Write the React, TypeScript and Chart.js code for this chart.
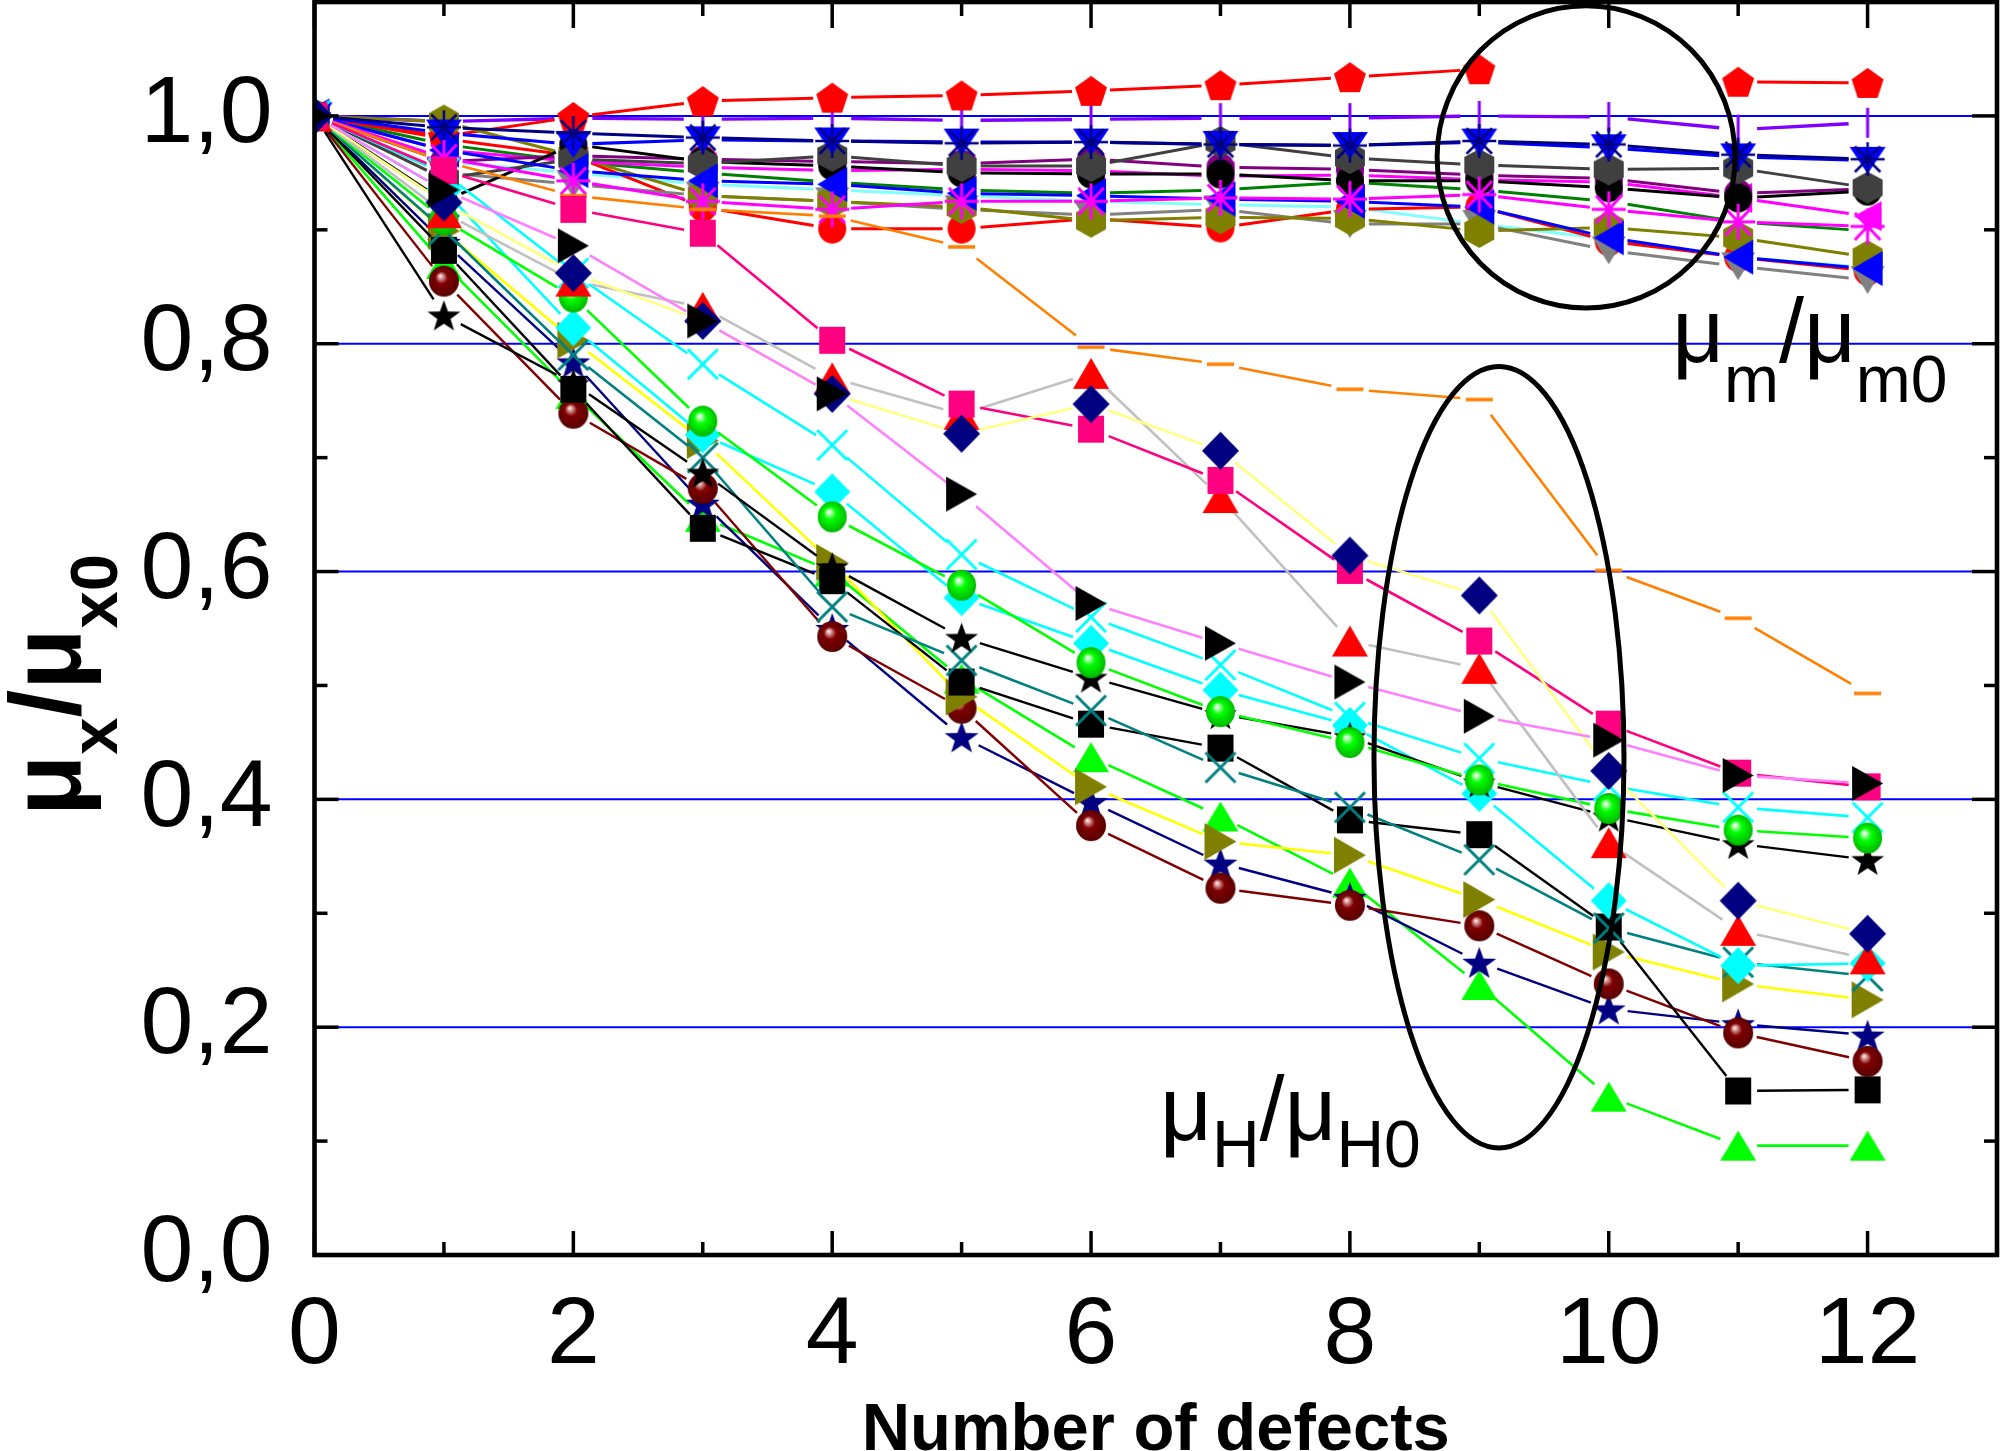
import React, { useEffect, useRef } from 'react';
import { Chart, registerables } from 'chart.js';

Chart.register(...registerables);

// ---------- axes ----------
const xValues = [0, 1, 2, 3, 4, 5, 6, 7, 8, 9, 10, 11, 12];
const xTickValues = [0, 2, 4, 6, 8, 10, 12];
const xTickLabels = ['0', '2', '4', '6', '8', '10', '12'];
const xMinorTickValues = [1, 3, 5, 7, 9, 11];
const yTickValues = [0, 0.2, 0.4, 0.6, 0.8, 1.0];
const yTickLabels = ['0,0', '0,2', '0,4', '0,6', '0,8', '1,0'];
const yMinorTickValues = [0.1, 0.3, 0.5, 0.7, 0.9];
const yGridValues = [0.2, 0.4, 0.6, 0.8, 1.0];
const xAxisTitle = 'Number of defects';

// ---------- μH/μH0 series ----------
const hBlackRightTriangle = [1, 0.935, 0.886, 0.82, 0.756, 0.668, 0.572, 0.537, 0.503, 0.473, 0.452, 0.421, 0.414];
const hNavyDiamond = [1, 0.924, 0.862, 0.82, 0.756, 0.721, 0.747, 0.706, 0.614, 0.579, 0.425, 0.311, 0.282];
const hPinkSquare = [1, 0.952, 0.918, 0.897, 0.803, 0.747, 0.725, 0.68, 0.601, 0.539, 0.466, 0.423, 0.411];
const hRedTriangle = [1, 0.915, 0.855, 0.832, 0.77, 0.738, 0.774, 0.665, 0.539, 0.515, 0.362, 0.285, 0.26];
const hGreenSphere = [1, 0.909, 0.841, 0.732, 0.648, 0.588, 0.52, 0.477, 0.45, 0.417, 0.392, 0.373, 0.366];
const hBlackStar = [1, 0.825, 0.765, 0.687, 0.604, 0.542, 0.507, 0.475, 0.455, 0.415, 0.385, 0.361, 0.347];
const hCyanCross = [1, 0.95, 0.862, 0.782, 0.711, 0.615, 0.56, 0.518, 0.472, 0.436, 0.412, 0.393, 0.384];
const hCyanDiamond = [1, 0.935, 0.814, 0.72, 0.67, 0.577, 0.537, 0.496, 0.465, 0.405, 0.311, 0.254, 0.256];
const hTealCross = [1, 0.9, 0.79, 0.7, 0.569, 0.522, 0.478, 0.428, 0.393, 0.347, 0.287, 0.257, 0.245];
const hBlackSquare = [1, 0.882, 0.76, 0.638, 0.592, 0.503, 0.466, 0.445, 0.382, 0.369, 0.288, 0.144, 0.145];
const hOliveTriangle = [1, 0.899, 0.803, 0.715, 0.608, 0.49, 0.411, 0.363, 0.351, 0.312, 0.266, 0.238, 0.224];
const hBrownSphere = [1, 0.855, 0.739, 0.673, 0.543, 0.48, 0.377, 0.322, 0.307, 0.289, 0.238, 0.195, 0.17];
const hNavyStar = [1, 0.889, 0.784, 0.66, 0.55, 0.455, 0.398, 0.344, 0.314, 0.257, 0.216, 0.203, 0.193];
const hGreenTriangle = [1, 0.87, 0.756, 0.648, 0.6, 0.506, 0.437, 0.385, 0.327, 0.237, 0.139, 0.096, 0.096];
const hOrangeDash = [1, 0.96, 0.93, 0.918, 0.912, 0.885, 0.797, 0.782, 0.76, 0.751, 0.601, 0.559, 0.493];

// ---------- μm/μm0 series ----------
const mMagentaAsterisk = [1, 0.963, 0.943, 0.925, 0.918, 0.925, 0.925, 0.928, 0.927, 0.931, 0.918, 0.907, 0.903];
const mNavyAsterisk = [1, 0.99, 0.985, 0.981, 0.978, 0.976, 0.977, 0.975, 0.974, 0.978, 0.975, 0.966, 0.962];
const mBlueDownTriangle = [1, 0.985, 0.975, 0.979, 0.978, 0.977, 0.977, 0.975, 0.974, 0.977, 0.972, 0.964, 0.961];
const mBlueLeftTriangle = [1, 0.97, 0.952, 0.943, 0.94, 0.932, 0.93, 0.927, 0.925, 0.92, 0.893, 0.876, 0.866];
const mDarkGrayHexagon = [1, 0.945, 0.962, 0.958, 0.965, 0.956, 0.956, 0.977, 0.963, 0.957, 0.953, 0.954, 0.937];
const mBlackCircle = [1, 0.925, 0.975, 0.96, 0.956, 0.95, 0.949, 0.949, 0.943, 0.943, 0.937, 0.928, 0.934];
const mPurpleCircle = [1, 0.96, 0.965, 0.962, 0.96, 0.958, 0.962, 0.955, 0.953, 0.948, 0.945, 0.932, 0.936];
const mMagentaLeftTriangle = [1, 0.97, 0.96, 0.955, 0.952, 0.953, 0.952, 0.947, 0.948, 0.944, 0.942, 0.928, 0.912];
const mOliveHexagon = [1, 0.995, 0.965, 0.93, 0.925, 0.92, 0.908, 0.911, 0.91, 0.899, 0.902, 0.893, 0.876];
const mGrayDownTriangle = [1, 0.95, 0.94, 0.93, 0.925, 0.918, 0.913, 0.918, 0.905, 0.905, 0.882, 0.868, 0.856];
const mRedCircle = [1, 0.98, 0.965, 0.92, 0.901, 0.901, 0.91, 0.902, 0.918, 0.92, 0.89, 0.876, 0.864];
const mRedPentagon = [1, 0.982, 0.999, 1.013, 1.016, 1.018, 1.022, 1.027, 1.034, 1.041, null, 1.03, 1.029];
const mVioletBar = [1, 0.995, 0.998, 0.997, 0.998, 0.996, 0.997, 0.998, 0.998, 1.0, 0.999, 0.988, 0.994];
const mLightCyanLine = [1, 0.96, 0.95, 0.94, 0.935, 0.93, 0.925, 0.922, 0.92, 0.905, 0.892, 0.876, 0.867];
const mGreenLine = [1, 0.975, 0.96, 0.95, 0.942, 0.935, 0.932, 0.935, 0.942, 0.935, 0.925, 0.907, 0.899];

// ---------- annotations (data coordinates) ----------
const upperEllipse = { cx: 9.825, cy: 0.964, rx: 1.151, ry: 0.1326 };
const lowerEllipse = { cx: 9.152, cy: 0.437, rx: 0.966, ry: 0.343 };
const mLabelAnchor = { x: 10.49, y: 0.784 };
const hLabelAnchor = { x: 6.533, y: 0.101 };

// ---------- styles ----------
type Marker = { shape: string; color: string; w: number; h: number; lw?: number; light?: string; dark?: string };

const LINE_GAP = 19; // Origin-style gap between line ends and symbols (px)

const seriesStyles: { data: (number | null)[]; line: string; width: number; marker: Marker | null }[] = [
  { data: hBlackRightTriangle, line: '#FF80FF', width: 2.6, marker: { shape: 'triRight', color: '#000000', w: 31, h: 35 } },
  { data: hNavyDiamond, line: '#FFFF80', width: 2.6, marker: { shape: 'diamond', color: '#000080', w: 37, h: 38 } },
  { data: hPinkSquare, line: '#FF0080', width: 2.6, marker: { shape: 'square', color: '#FF0080', w: 26, h: 27 } },
  { data: hRedTriangle, line: '#C0C0C0', width: 2.6, marker: { shape: 'triUp', color: '#FF0000', w: 36, h: 31 } },
  { data: hGreenSphere, line: '#00FF00', width: 2.6, marker: { shape: 'sphere', color: '#00FF00', w: 29, h: 31, light: '#d0ffd0', dark: '#00b000' } },
  { data: hBlackStar, line: '#000000', width: 2.4, marker: { shape: 'star5', color: '#000000', w: 33, h: 32 } },
  { data: hCyanCross, line: '#00FFFF', width: 2.6, marker: { shape: 'x', color: '#00FFFF', w: 30, h: 30, lw: 3 } },
  { data: hCyanDiamond, line: '#00FFFF', width: 2.6, marker: { shape: 'diamond', color: '#00FFFF', w: 36, h: 37 } },
  { data: hTealCross, line: '#008080', width: 2.6, marker: { shape: 'x', color: '#008080', w: 30, h: 30, lw: 3 } },
  { data: hBlackSquare, line: '#000000', width: 2.4, marker: { shape: 'square', color: '#000000', w: 26, h: 27 } },
  { data: hOliveTriangle, line: '#FFFF00', width: 2.6, marker: { shape: 'triRight', color: '#808000', w: 32, h: 37 } },
  { data: hBrownSphere, line: '#800000', width: 2.4, marker: { shape: 'sphere', color: '#800000', w: 30, h: 31, light: '#e8b8b8', dark: '#550000' } },
  { data: hNavyStar, line: '#000080', width: 2.4, marker: { shape: 'star5', color: '#000080', w: 34, h: 33 } },
  { data: hGreenTriangle, line: '#00FF00', width: 2.6, marker: { shape: 'triUp', color: '#00FF00', w: 36, h: 30 } },
  { data: hOrangeDash, line: '#FF8000', width: 2.6, marker: { shape: 'dash', color: '#FF8000', w: 27, h: 4, lw: 3.5 } },
  { data: mMagentaAsterisk, line: '#FF00FF', width: 3, marker: { shape: 'asterisk', color: '#FF00FF', w: 34, h: 36, lw: 3 } },
  { data: mNavyAsterisk, line: '#000080', width: 3, marker: { shape: 'asterisk', color: '#000080', w: 34, h: 34, lw: 2.5 } },
  { data: mBlueDownTriangle, line: '#0000FF', width: 3.2, marker: { shape: 'triDown', color: '#0000FF', w: 36, h: 27 } },
  { data: mBlueLeftTriangle, line: '#0000FF', width: 3, marker: { shape: 'triLeft', color: '#0000FF', w: 30, h: 35 } },
  { data: mDarkGrayHexagon, line: '#404040', width: 3, marker: { shape: 'hexagon', color: '#404040', w: 30, h: 32 } },
  { data: mBlackCircle, line: '#000000', width: 3, marker: { shape: 'circle', color: '#000000', w: 28, h: 29 } },
  { data: mPurpleCircle, line: '#800080', width: 3, marker: { shape: 'circle', color: '#800080', w: 28, h: 28 } },
  { data: mMagentaLeftTriangle, line: '#FF00FF', width: 3, marker: { shape: 'triLeft', color: '#FF00FF', w: 28, h: 30 } },
  { data: mOliveHexagon, line: '#808000', width: 3, marker: { shape: 'hexagon', color: '#808000', w: 30, h: 34 } },
  { data: mGrayDownTriangle, line: '#808080', width: 3, marker: { shape: 'triDown', color: '#808080', w: 34, h: 28 } },
  { data: mRedCircle, line: '#FF0000', width: 3, marker: { shape: 'circle', color: '#FF0000', w: 28, h: 30 } },
  { data: mRedPentagon, line: '#FF0000', width: 3, marker: { shape: 'pentagon', color: '#FF0000', w: 32, h: 30 } },
  { data: mVioletBar, line: '#8000FF', width: 3.4, marker: { shape: 'vbar', color: '#8000FF', w: 4, h: 30, lw: 3 } },
  { data: mLightCyanLine, line: '#80FFFF', width: 3, marker: null },
  { data: mGreenLine, line: '#008000', width: 3, marker: null },
];

function makeMarker(m: Marker): HTMLCanvasElement {
  const pad = 3;
  const c = document.createElement('canvas');
  c.width = Math.ceil(m.w + pad * 2);
  c.height = Math.ceil(m.h + pad * 2);
  const g = c.getContext('2d') as CanvasRenderingContext2D;
  const cx = c.width / 2, cy = c.height / 2, hw = m.w / 2, hh = m.h / 2;
  g.fillStyle = m.color;
  g.strokeStyle = m.color;
  g.lineWidth = m.lw || 3;
  const poly = (pts: number[][]) => {
    g.beginPath();
    pts.forEach((p, i) => (i ? g.lineTo(p[0], p[1]) : g.moveTo(p[0], p[1])));
    g.closePath();
    g.fill();
  };
  switch (m.shape) {
    case 'square':
      g.fillRect(cx - hw, cy - hh, m.w, m.h);
      break;
    case 'circle':
      g.beginPath();
      g.ellipse(cx, cy, hw, hh, 0, 0, Math.PI * 2);
      g.fill();
      break;
    case 'sphere': {
      const grad = g.createRadialGradient(cx - hw * 0.25, cy - hh * 0.35, 0, cx, cy, Math.max(hw, hh) * 1.05);
      grad.addColorStop(0, '#ffffff');
      grad.addColorStop(0.1, m.light || '#ffffff');
      grad.addColorStop(0.38, m.color);
      grad.addColorStop(1, m.dark || m.color);
      g.fillStyle = grad;
      g.beginPath();
      g.ellipse(cx, cy, hw, hh, 0, 0, Math.PI * 2);
      g.fill();
      break;
    }
    case 'triUp':
      poly([[cx, cy - hh], [cx + hw, cy + hh], [cx - hw, cy + hh]]);
      break;
    case 'triDown':
      poly([[cx - hw, cy - hh], [cx + hw, cy - hh], [cx, cy + hh]]);
      break;
    case 'triRight':
      poly([[cx - hw, cy - hh], [cx + hw, cy], [cx - hw, cy + hh]]);
      break;
    case 'triLeft':
      poly([[cx + hw, cy - hh], [cx - hw, cy], [cx + hw, cy + hh]]);
      break;
    case 'diamond':
      poly([[cx, cy - hh], [cx + hw, cy], [cx, cy + hh], [cx - hw, cy]]);
      break;
    case 'hexagon':
      poly([[cx, cy - hh], [cx + hw, cy - hh / 2], [cx + hw, cy + hh / 2], [cx, cy + hh], [cx - hw, cy + hh / 2], [cx - hw, cy - hh / 2]]);
      break;
    case 'pentagon': {
      const pts: number[][] = [];
      const ry = m.h / 1.809, rx = m.w / 1.902;
      const oy = cy + (ry - 0.809 * ry) / 2;
      for (let k = 0; k < 5; k++) {
        const a = (k * 72 * Math.PI) / 180;
        pts.push([cx + rx * Math.sin(a), oy - ry * Math.cos(a)]);
      }
      poly(pts);
      break;
    }
    case 'star5': {
      const pts: number[][] = [];
      const R = hw * 1.05, r = R * 0.4;
      const oy = cy + R * 0.1;
      for (let k = 0; k < 10; k++) {
        const a = (k * 36 * Math.PI) / 180;
        const rr = k % 2 === 0 ? R : r;
        pts.push([cx + rr * Math.sin(a), oy - rr * Math.cos(a) * (hh / hw)]);
      }
      poly(pts);
      break;
    }
    case 'x':
      g.beginPath();
      g.moveTo(cx - hw, cy - hh); g.lineTo(cx + hw, cy + hh);
      g.moveTo(cx + hw, cy - hh); g.lineTo(cx - hw, cy + hh);
      g.stroke();
      break;
    case 'asterisk': {
      g.beginPath();
      g.moveTo(cx, cy - hh); g.lineTo(cx, cy + hh);
      g.moveTo(cx - hw, cy); g.lineTo(cx + hw, cy);
      const d = 0.75;
      g.moveTo(cx - hw * d, cy - hh * d); g.lineTo(cx + hw * d, cy + hh * d);
      g.moveTo(cx + hw * d, cy - hh * d); g.lineTo(cx - hw * d, cy + hh * d);
      g.stroke();
      break;
    }
    case 'vbar':
      g.beginPath();
      g.moveTo(cx, cy - hh); g.lineTo(cx, cy + hh);
      g.stroke();
      break;
    case 'dash':
      g.beginPath();
      g.moveTo(cx - hw, cy); g.lineTo(cx + hw, cy);
      g.stroke();
      break;
    default:
      break;
  }
  return c;
}

type Part = { t: string; font: string; dy: number };

function drawRich(ctx: CanvasRenderingContext2D, parts: Part[], x: number, y: number) {
  let cx = x;
  ctx.textAlign = 'left';
  ctx.textBaseline = 'alphabetic';
  for (const p of parts) {
    ctx.font = p.font;
    ctx.fillText(p.t, cx, y + p.dy);
    cx += ctx.measureText(p.t).width;
  }
}

const SANS = "'Liberation Sans', Arial, sans-serif";

const decorPlugin = {
  id: 'decor',
  beforeDatasetsDraw(chart: any) {
    const { ctx, chartArea: a, scales } = chart;
    const ys = scales.y;
    ctx.save();
    ctx.strokeStyle = '#0000FF';
    ctx.lineWidth = 2;
    for (const v of yGridValues) {
      const py = ys.getPixelForValue(v);
      ctx.beginPath();
      ctx.moveTo(a.left, py);
      ctx.lineTo(a.right, py);
      ctx.stroke();
    }
    ctx.restore();
  },
  afterDatasetsDraw(chart: any) {
    const { ctx, chartArea: a, scales } = chart;
    const xs = scales.x, ys = scales.y;
    ctx.save();
    ctx.setLineDash([]);
    ctx.strokeStyle = '#000';
    ctx.lineCap = 'butt';
    ctx.lineWidth = 3.5;
    const seg = (x1: number, y1: number, x2: number, y2: number) => {
      ctx.beginPath(); ctx.moveTo(x1, y1); ctx.lineTo(x2, y2); ctx.stroke();
    };
    for (const v of xTickValues) {
      const px = xs.getPixelForValue(v);
      seg(px, a.bottom, px, a.bottom - 24);
      seg(px, a.top, px, a.top + 26);
    }
    for (const v of xMinorTickValues) {
      const px = xs.getPixelForValue(v);
      seg(px, a.bottom, px, a.bottom - 13);
      seg(px, a.top, px, a.top + 14);
    }
    for (const v of yTickValues) {
      const py = ys.getPixelForValue(v);
      seg(a.left, py, a.left + 24, py);
      seg(a.right, py, a.right - 25, py);
    }
    for (const v of yMinorTickValues) {
      const py = ys.getPixelForValue(v);
      seg(a.left, py, a.left + 13, py);
      seg(a.right, py, a.right - 13, py);
    }
    ctx.lineWidth = 4.6;
    ctx.strokeRect(a.left, a.top, a.right - a.left, a.bottom - a.top);

    const sx = Math.abs(xs.getPixelForValue(1) - xs.getPixelForValue(0));
    const sy = Math.abs(ys.getPixelForValue(1) - ys.getPixelForValue(0));
    ctx.lineWidth = 5;
    for (const e of [upperEllipse, lowerEllipse]) {
      ctx.beginPath();
      ctx.ellipse(xs.getPixelForValue(e.cx), ys.getPixelForValue(e.cy), e.rx * sx, e.ry * sy, 0, 0, Math.PI * 2);
      ctx.stroke();
    }

    ctx.fillStyle = '#000';
    const big = `90px ${SANS}`;
    const sub = `66px ${SANS}`;
    drawRich(ctx, [
      { t: 'μ', font: big, dy: 0 }, { t: 'm', font: sub, dy: 40 },
      { t: '/', font: big, dy: 0 },
      { t: 'μ', font: big, dy: 0 }, { t: 'm0', font: sub, dy: 40 },
    ], xs.getPixelForValue(mLabelAnchor.x), ys.getPixelForValue(mLabelAnchor.y));
    drawRich(ctx, [
      { t: 'μ', font: big, dy: 0 }, { t: 'H', font: sub, dy: 27 },
      { t: '/', font: big, dy: 0 },
      { t: 'μ', font: big, dy: 0 }, { t: 'H0', font: sub, dy: 27 },
    ], xs.getPixelForValue(hLabelAnchor.x), ys.getPixelForValue(hLabelAnchor.y));

    ctx.font = `bold 67px ${SANS}`;
    ctx.textAlign = 'center';
    ctx.textBaseline = 'alphabetic';
    ctx.fillText(xAxisTitle, (a.left + a.right) / 2, a.bottom + 195);

    ctx.save();
    ctx.translate(80, 816);
    ctx.rotate(-Math.PI / 2);
    const yb = `bold 100px ${SANS}`;
    const ysub = `bold 67px ${SANS}`;
    drawRich(ctx, [
      { t: 'μ', font: yb, dy: 0 }, { t: 'x', font: ysub, dy: 37 },
      { t: '/', font: yb, dy: 0 },
      { t: 'μ', font: yb, dy: 0 }, { t: 'x0', font: ysub, dy: 37 },
    ], 0, 0);
    ctx.restore();
    ctx.restore();
  },
};

// dash pattern that leaves a gap of LINE_GAP px at both ends of each segment
const gapDash = (sctx: any) => {
  const L = Math.hypot(sctx.p1.x - sctx.p0.x, sctx.p1.y - sctx.p0.y);
  const g = Math.min(LINE_GAP, L / 2);
  return [0, g, Math.max(L - 2 * g, 0), g];
};

export default function App() {
  const ref = useRef<HTMLCanvasElement>(null);
  useEffect(() => {
    document.body.style.margin = '0';
    const canvas = ref.current as HTMLCanvasElement;
    const datasets = seriesStyles.map((s) => ({
      data: xValues.map((x, i) => ({ x, y: s.data[i] })),
      borderColor: s.line,
      backgroundColor: s.line,
      borderWidth: s.width,
      borderCapStyle: 'butt',
      pointStyle: s.marker ? makeMarker(s.marker) : 'circle',
      pointRadius: s.marker ? 8 : 0,
      pointHoverRadius: s.marker ? 8 : 0,
      tension: 0,
      spanGaps: false,
      segment: { borderDash: gapDash },
      clip: { left: 0, top: false, right: false, bottom: false },
    }));
    const chart = new Chart(canvas, {
      type: 'line',
      data: { datasets },
      plugins: [decorPlugin],
      options: {
        animation: false,
        responsive: false,
        devicePixelRatio: 1,
        events: [],
        layout: { autoPadding: false, padding: { left: 0, top: 2, right: 3, bottom: 0 } },
        plugins: { legend: { display: false }, tooltip: { enabled: false }, title: { display: false } },
        scales: {
          x: {
            type: 'linear',
            min: 0,
            max: 13,
            grid: { display: false },
            border: { display: false },
            afterBuildTicks: (scale: any) => { scale.ticks = xTickValues.map((v) => ({ value: v })); },
            afterFit: (scale: any) => {
              scale.height = 196;
              scale.paddingLeft = 0;
              scale.paddingRight = 0;
            },
            ticks: {
              autoSkip: false,
              maxRotation: 0,
              padding: 17,
              color: '#000',
              font: { family: SANS, size: 95 },
              callback: (_v: any, i: number) => xTickLabels[i],
            },
          },
          y: {
            type: 'linear',
            min: 0,
            max: 1.1,
            grid: { display: false },
            border: { display: false },
            afterBuildTicks: (scale: any) => { scale.ticks = yTickValues.map((v) => ({ value: v })); },
            afterFit: (scale: any) => {
              scale.width = 314.5;
              scale.paddingTop = 0;
              scale.paddingBottom = 0;
            },
            ticks: {
              padding: 34,
              color: '#000',
              font: { family: SANS, size: 95 },
              callback: (_v: any, i: number) => yTickLabels[i],
            },
          },
        },
      } as any,
    });
    return () => chart.destroy();
  }, []);
  return (
    <div style={{ width: 2000, height: 1451, position: 'relative', background: '#fff' }}>
      <canvas ref={ref} width={2000} height={1451} style={{ display: 'block', width: 2000, height: 1451 }} />
    </div>
  );
}
